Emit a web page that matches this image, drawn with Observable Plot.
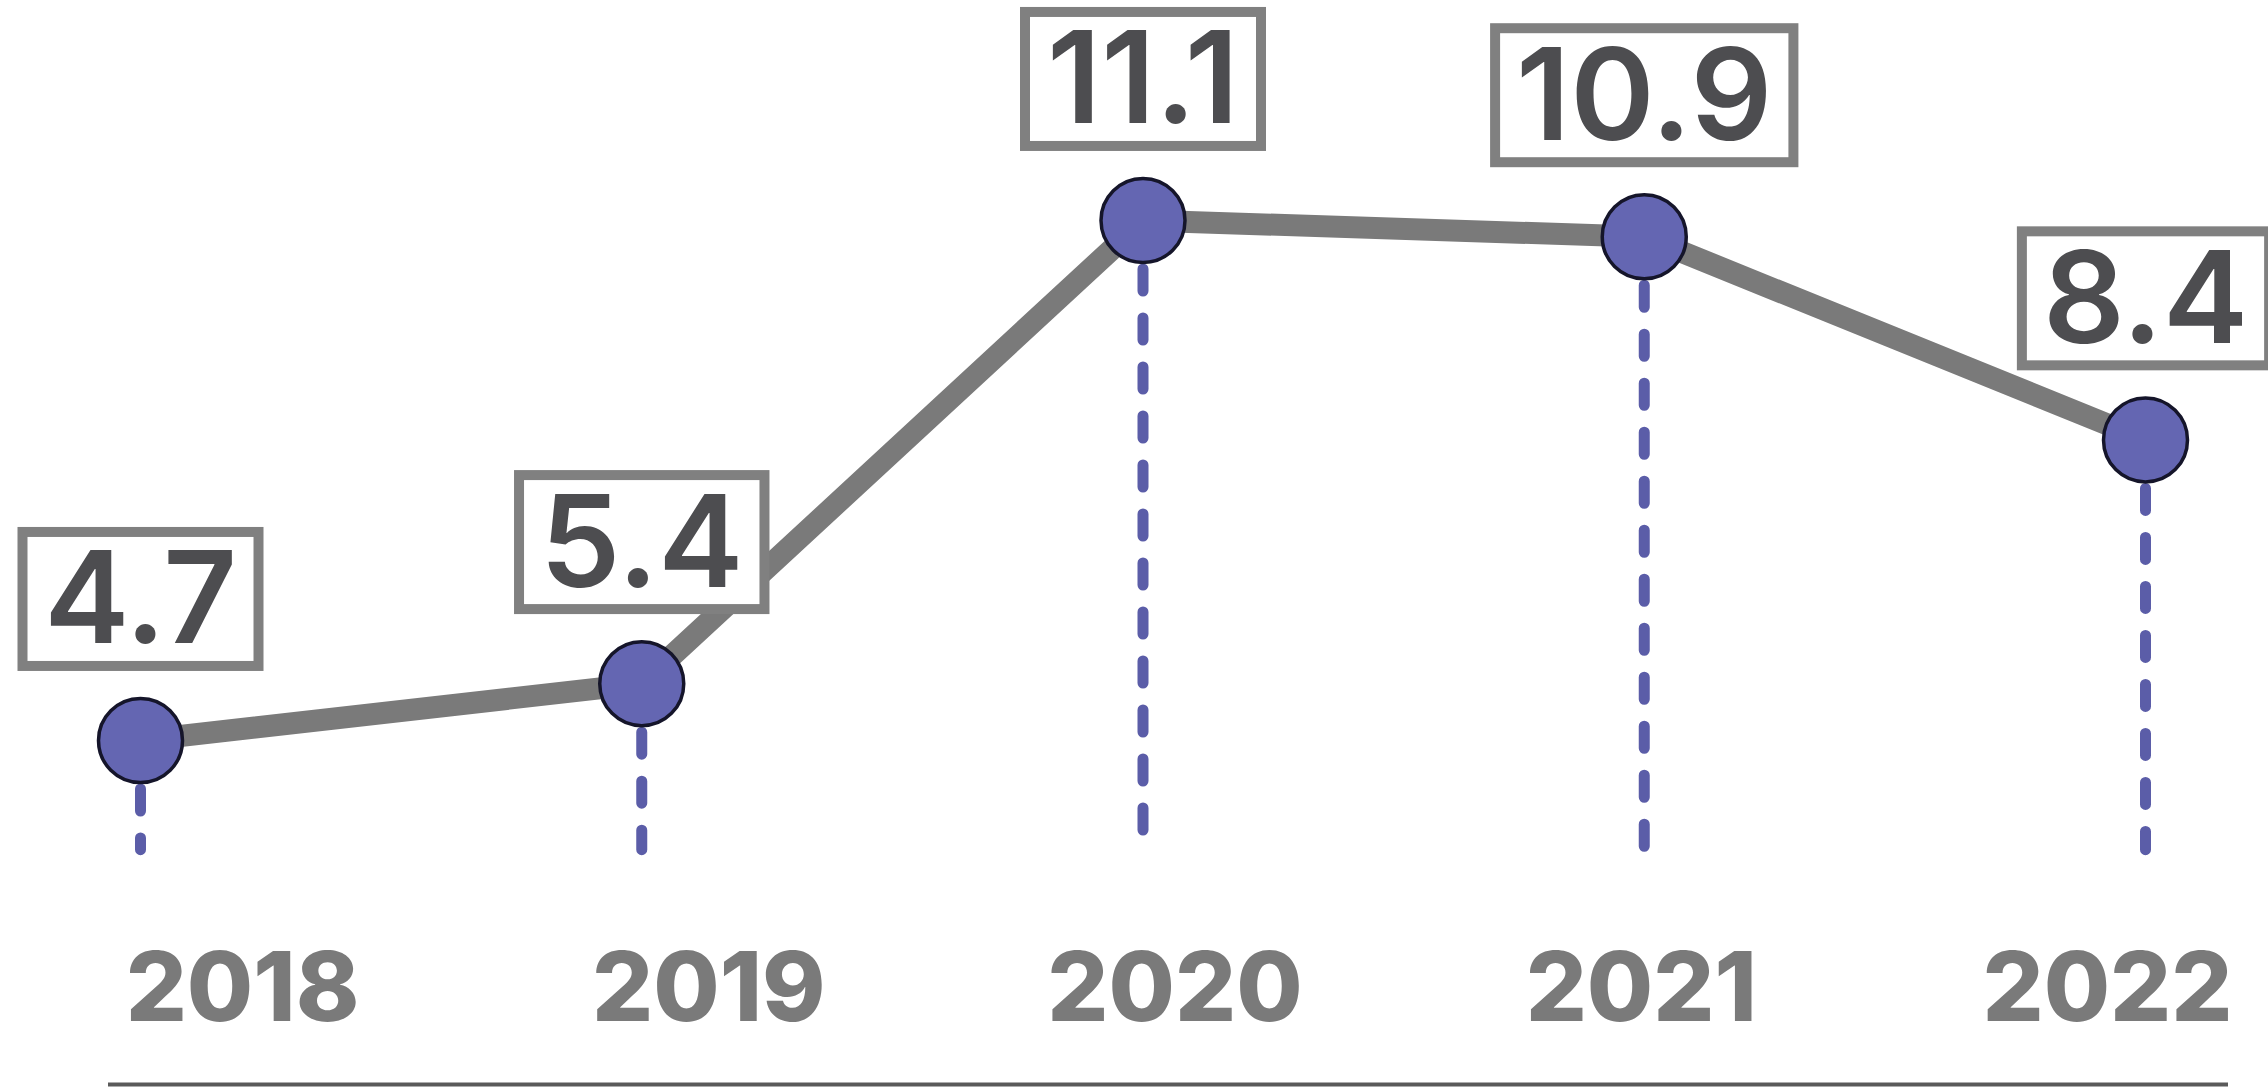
<!DOCTYPE html>
<html>
<head>
<meta charset="utf-8">
<script src="https://cdn.jsdelivr.net/npm/d3@7"></script>
<script src="https://cdn.jsdelivr.net/npm/@observablehq/plot@0.6"></script>
<style>
  html, body { margin: 0; padding: 0; background: #ffffff; overflow: hidden; }
  svg { display: block; }
</style>
</head>
<body>
<div id="chart"></div>
<script>
// ---- data ----
const years = [2018, 2019, 2020, 2021, 2022];
const values = [4.7, 5.4, 11.1, 10.9, 8.4];
const yearLabels = ["2018", "2019", "2020", "2021", "2022"];
const dropLineBase = 3.35; // value down to which the dashed drop lines run

const data = years.map((year, i) => ({year, value: values[i]}));
const labelRows = years.map((year, i) => ({year, label: yearLabels[i]}));

const FONT = "Inter, 'Open Sans', sans-serif";

// ---- main chart ----
const main = Plot.plot({
  width: 2268,
  height: 900,
  marginTop: 0, marginBottom: 0, marginLeft: 0, marginRight: 0,
  style: {fontFamily: FONT, background: "transparent"},
  x: {type: "linear", domain: [2018, 2022], range: [140, 2145], axis: null},
  y: {domain: [4.7, 11.1], range: [740, 220], axis: null},
  marks: [
    Plot.ruleX(data, {
      x: "year", y1: "value", y2: () => dropLineBase,
      stroke: "#5b5da8", strokeWidth: 11, strokeDasharray: "22,27", strokeLinecap: "round"
    }),
    Plot.line(data, {
      x: "year", y: "value",
      stroke: "#7a7a7a", strokeWidth: 22, strokeLinejoin: "round", curve: "linear"
    }),
    Plot.dot(data, {
      x: "year", y: "value", r: 42,
      fill: "#6466b2", stroke: "#15152a", strokeWidth: 3.5
    }),
    Plot.text(data, {
      x: "year", y: "value", text: d => d.value.toFixed(1),
      dy: -138, fontSize: 128, fontWeight: 600, fill: "#4d4d50",
      fontFamily: FONT
    })
  ]
});

// ---- axis strip (year labels + base rule) ----
const axis = Plot.plot({
  width: 2268,
  height: 188,
  marginTop: 0, marginBottom: 0, marginLeft: 108, marginRight: 40,
  style: {fontFamily: FONT, background: "transparent"},
  x: {type: "linear", domain: [2018, 2022], range: [242, 2107], axis: null},
  y: {domain: [0, 1], range: [184, 0], axis: null},
  marks: [
    Plot.text(labelRows, {
      x: "year", text: "label", frameAnchor: "middle", dy: -4,
      fontSize: 96, fontWeight: 800, fill: "#7a7a7a",
      fontFamily: FONT
    }),
    Plot.ruleY([0], {stroke: "#5a5a5a", strokeWidth: 4})
  ]
});

const host = document.getElementById("chart");
host.append(main, axis);

// ---- framed boxes behind the value labels ----
const ns = "http://www.w3.org/2000/svg";
main.querySelectorAll('g[aria-label="text"] text').forEach(t => {
  const bb = t.getBBox();
  const w = Math.max(bb.width + 42, 236);
  const h = 134;
  const cx = bb.x + bb.width / 2;
  const cy = bb.y + bb.height / 2 + 2;
  const r = document.createElementNS(ns, "rect");
  r.setAttribute("x", cx - w / 2);
  r.setAttribute("y", cy - h / 2);
  r.setAttribute("width", w);
  r.setAttribute("height", h);
  r.setAttribute("fill", "#ffffff");
  r.setAttribute("stroke", "#808080");
  r.setAttribute("stroke-width", 10);
  const tr = t.getAttribute("transform");
  if (tr) r.setAttribute("transform", tr);
  t.parentNode.insertBefore(r, t);
});
</script>
</body>
</html>
